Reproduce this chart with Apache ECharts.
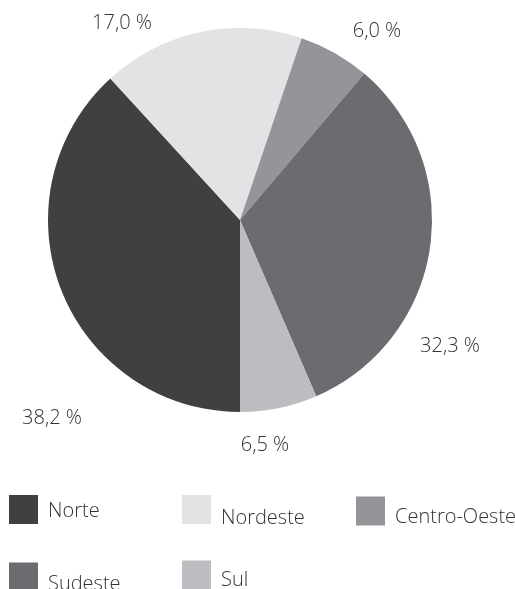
<!DOCTYPE html>
<html>
<head>
<meta charset="utf-8">
<script src="https://cdn.jsdelivr.net/npm/echarts@6/dist/echarts.min.js"></script>
<style>
  html, body { margin: 0; padding: 0; background: #fff; }
  #chart { width: 515px; height: 589px; }
</style>
</head>
<body>
<div id="chart"></div>
<script>
var regions = ['Norte', 'Nordeste', 'Centro-Oeste', 'Sudeste', 'Sul'];
var shares = [38.2, 17.0, 6.0, 32.3, 6.5];
var sliceColors = ['#404041', '#e2e3e4', '#939598', '#6b6c6f', '#bcbdc0'];

// where each percentage sits (label centres, px)
var labelSpots = [[52, 418], [122, 23], [377, 31], [450, 346], [265, 445]];
// legend square top-left corners, and how far the text sits below the square's middle
var legendSpots = [[9, 495], [182, 494], [356, 495], [9, 560], [182, 560]];
var legendDrop = [2, 9, 6, 7, 5];

var fontName = '"Open Sans", "Noto Sans", sans-serif';

function legendItem(i) {
    var sq = 29;
    var lh = legendDrop[i] * 2;
    // an empty first line pushes the name down by half a line
    var over = Math.max(0, lh - sq / 2);
    return {
        orient: 'vertical',
        left: legendSpots[i][0],
        top: legendSpots[i][1] - over,
        padding: 0,
        icon: 'rect',
        itemWidth: sq,
        itemHeight: sq,
        selectedMode: false,
        data: [regions[i]],
        formatter: function (name) { return '\n' + name; },
        textStyle: {
            color: '#333',
            fontFamily: fontName,
            fontWeight: 300,
            fontSize: 20,
            lineHeight: lh,
            padding: [0, 0, 0, 5]
        }
    };
}

var option = {
    animation: false,
    color: sliceColors,
    legend: regions.map(function (n, i) { return legendItem(i); }),
    series: [
        {
            type: 'pie',
            center: [240, 220],
            radius: 192,
            startAngle: 270,
            clockwise: true,
            silent: true,
            label: {
                show: true,
                position: 'outside',
                overflow: 'none',
                color: '#333',
                fontFamily: fontName,
                fontWeight: 300,
                fontSize: 20,
                formatter: function (p) {
                    return p.value.toFixed(1).replace('.', ',') + ' %';
                }
            },
            labelLine: { show: false },
            labelLayout: function (p) {
                var s = labelSpots[p.dataIndex];
                return { x: s[0], y: s[1], align: 'center', verticalAlign: 'middle' };
            },
            data: regions.map(function (n, i) {
                return { name: n, value: shares[i] };
            })
        }
    ]
};

var chart = echarts.init(document.getElementById('chart'));
chart.setOption(option);
</script>
</body>
</html>
